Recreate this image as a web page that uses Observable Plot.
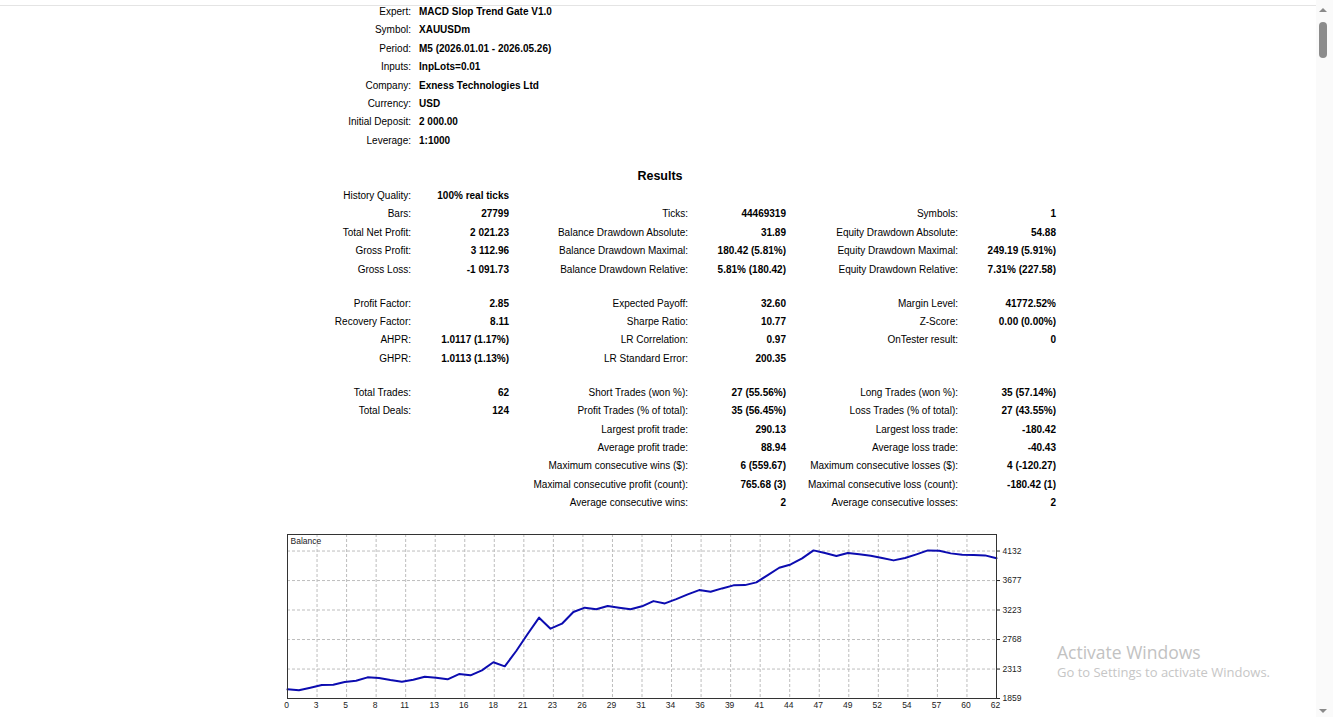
<!DOCTYPE html>
<html>
<head>
<meta charset="utf-8">
<script src="https://cdn.jsdelivr.net/npm/d3@7"></script>
<script src="https://cdn.jsdelivr.net/npm/@observablehq/plot@0.6"></script>
<style>
  html, body { margin: 0; padding: 0; background: #fff; }
  body { width: 1333px; height: 717px; overflow: hidden; position: relative;
         font-family: "Liberation Sans", Arial, sans-serif; font-size: 10px; color: #000; }
  .t { position: absolute; white-space: nowrap; line-height: 12px; }
  .r { text-align: right; width: 300px; }
  .b { font-weight: bold; }
  #topline { position: absolute; left: 0; top: 5px; width: 1316px; height: 1px; background: #e4e4e4; }
  #track { position: absolute; left: 1316px; top: 0; width: 17px; height: 717px; background: #fafafa; }
  #thumb { position: absolute; left: 1319px; top: 22px; width: 8px; height: 36px; background: #8c8c8c; border-radius: 4px; }
  .arrow { position: absolute; left: 1319px; width: 0; height: 0; border-left: 4px solid transparent; border-right: 4px solid transparent; }
  #up { top: 8px; border-bottom: 4px solid #8a8a8a; }
  #down { top: 709px; border-top: 4px solid #8a8a8a; }
  .wm { position: absolute; font-family: "Open Sans", "Noto Sans", sans-serif; white-space: nowrap; }
  #chart { position: absolute; left: 282px; top: 530px; }
</style>
</head>
<body>
<div id="topline"></div>
<div id="track"></div>
<div id="thumb"></div>
<div id="up" class="arrow"></div>
<div id="down" class="arrow"></div>
<div id="report"></div>
<div id="chart"></div>
<div class="wm" style="left:1057px; top:640px; font-size:17.5px; color:#c2c2c2;">Activate Windows</div>
<div class="wm" style="left:1057px; top:663px; font-size:13px; color:#c6c6c6;">Go to Settings to activate Windows.</div>
<script>
// ---- Header ----
const headerLabels = ["Expert:", "Symbol:", "Period:", "Inputs:", "Company:", "Currency:", "Initial Deposit:", "Leverage:"];
const headerValues = ["MACD Slop Trend Gate V1.0", "XAUUSDm", "M5 (2026.01.01 - 2026.05.26)", "InpLots=0.01",
                      "Exness Technologies Ltd", "USD", "2 000.00", "1:1000"];

// ---- Results table ----
const resultsTitle = "Results";
const resultRows = [
  ["History Quality:", "100% real ticks", "", "", "", ""],
  ["Bars:", "27799", "Ticks:", "44469319", "Symbols:", "1"],
  ["Total Net Profit:", "2 021.23", "Balance Drawdown Absolute:", "31.89", "Equity Drawdown Absolute:", "54.88"],
  ["Gross Profit:", "3 112.96", "Balance Drawdown Maximal:", "180.42 (5.81%)", "Equity Drawdown Maximal:", "249.19 (5.91%)"],
  ["Gross Loss:", "-1 091.73", "Balance Drawdown Relative:", "5.81% (180.42)", "Equity Drawdown Relative:", "7.31% (227.58)"],
  null,
  ["Profit Factor:", "2.85", "Expected Payoff:", "32.60", "Margin Level:", "41772.52%"],
  ["Recovery Factor:", "8.11", "Sharpe Ratio:", "10.77", "Z-Score:", "0.00 (0.00%)"],
  ["AHPR:", "1.0117 (1.17%)", "LR Correlation:", "0.97", "OnTester result:", "0"],
  ["GHPR:", "1.0113 (1.13%)", "LR Standard Error:", "200.35", "", ""],
  null,
  ["Total Trades:", "62", "Short Trades (won %):", "27 (55.56%)", "Long Trades (won %):", "35 (57.14%)"],
  ["Total Deals:", "124", "Profit Trades (% of total):", "35 (56.45%)", "Loss Trades (% of total):", "27 (43.55%)"],
  ["", "", "Largest profit trade:", "290.13", "Largest loss trade:", "-180.42"],
  ["", "", "Average profit trade:", "88.94", "Average loss trade:", "-40.43"],
  ["", "", "Maximum consecutive wins ($):", "6 (559.67)", "Maximum consecutive losses ($):", "4 (-120.27)"],
  ["", "", "Maximal consecutive profit (count):", "765.68 (3)", "Maximal consecutive loss (count):", "-180.42 (1)"],
  ["", "", "Average consecutive wins:", "2", "Average consecutive losses:", "2"]
];

// ---- Balance chart data ----
const chartTitle = "Balance";
const balance = [
  2000, 1985, 2025, 2066, 2070, 2113, 2133, 2185, 2174, 2143,
  2117, 2148, 2194, 2179, 2154, 2236, 2216, 2293, 2417, 2355,
  2591, 2853, 3105, 2935, 3012, 3193, 3259, 3234, 3285, 3259,
  3234, 3280, 3360, 3325, 3391, 3464, 3530, 3504, 3556, 3603,
  3607, 3649, 3761, 3874, 3925, 4019, 4142, 4101, 4055, 4101,
  4081, 4060, 4024, 3988, 4024, 4081, 4142, 4137, 4096, 4075,
  4070, 4065, 4021
];
const xTickLabels = [0, 3, 5, 8, 11, 13, 16, 18, 21, 23, 26, 29, 31, 34, 36, 39, 41, 44, 47, 49, 52, 54, 57, 60, 62];
const yTickLabels = [1859, 2313, 2768, 3223, 3677, 4132];
const yDomain = [1859, 4387];
const xDomain = [0, 62];

// ---- Build report text ----
const rep = document.getElementById("report");
function addText(txt, left, top, cls, extra) {
  if (!txt) return;
  const d = document.createElement("div");
  d.className = "t " + cls;
  d.textContent = txt;
  d.style.left = left + "px";
  d.style.top = top + "px";
  if (extra) Object.assign(d.style, extra);
  rep.appendChild(d);
}
const headerY0 = 11, rowStep = 18.4;
headerLabels.forEach((lab, i) => {
  const y = headerY0 + i * rowStep - 5;
  addText(lab, 411 - 300, y, "r");
  addText(headerValues[i], 419, y, "b");
});
addText(resultsTitle, 560, 175 - 7, "b", {width: "200px", textAlign: "center", fontSize: "12.5px", lineHeight: "16px"});

const colEdges = [411, 509, 688, 786, 958, 1056];
let y = 195;
resultRows.forEach((row, ri) => {
  if (row === null) { y += 15.6; return; }
  row.forEach((cell, ci) => {
    addText(cell, colEdges[ci] - 300, y - 5, "r" + (ci % 2 === 1 ? " b" : ""));
  });
  y += rowStep;
});

// ---- Chart ----
const nInt = xTickLabels.length - 1;
const xTickPos = xTickLabels.map((_, i) => xDomain[0] + (xDomain[1] - xDomain[0]) * i / nInt);
const xFmt = d => String(xTickLabels[Math.round((d - xDomain[0]) / (xDomain[1] - xDomain[0]) * nInt)]);

const chart = Plot.plot({
  width: 744,
  height: 184,
  marginLeft: 5,
  marginRight: 30,
  marginTop: 4,
  marginBottom: 16,
  x: {domain: xDomain},
  y: {domain: yDomain},
  style: {fontFamily: "Liberation Sans, Arial, sans-serif", fontSize: "8.5px", color: "#222", background: "transparent", overflow: "visible"},
  marks: [
    Plot.gridX(xTickPos, {stroke: "#bdbdbd", strokeOpacity: 1, strokeDasharray: "3,2"}),
    Plot.gridY(yTickLabels, {stroke: "#bdbdbd", strokeOpacity: 1, strokeDasharray: "3,2"}),
    Plot.line(balance, {x: (d, i) => i, y: d => d, stroke: "#0c0cb0", strokeWidth: 2}),
    Plot.frame({stroke: "#333"}),
    Plot.axisX(xTickPos, {tickSize: 0, tickPadding: 3, tickFormat: xFmt, label: null, dx: -1}),
    Plot.axisY(yTickLabels, {anchor: "right", tickSize: 3, tickPadding: 3, tickFormat: d => String(d), label: null}),
    Plot.text([chartTitle], {text: d => d, frameAnchor: "top-left", dx: 3, dy: 3, fontSize: 8.5, fill: "#222"})
  ]
});
document.getElementById("chart").appendChild(chart);
</script>
</body>
</html>
